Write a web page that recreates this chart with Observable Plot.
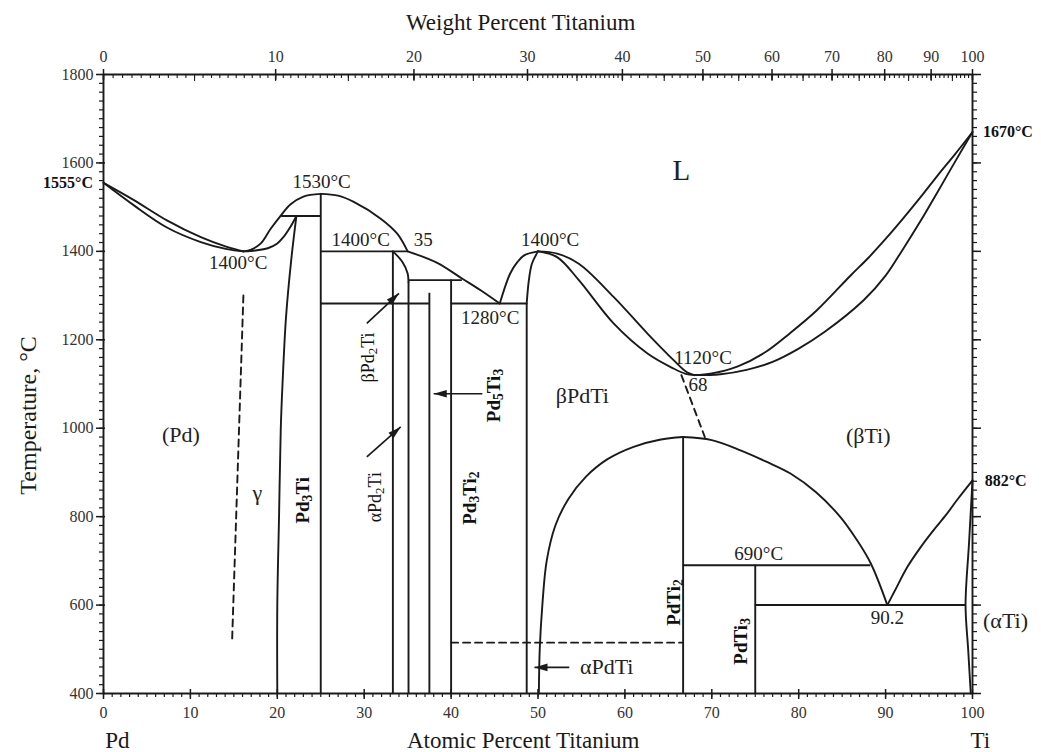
<!DOCTYPE html>
<html><head><meta charset="utf-8">
<script src="https://cdn.jsdelivr.net/npm/d3@7"></script>
<script src="https://cdn.jsdelivr.net/npm/@observablehq/plot@0.6"></script>
<style>body{margin:0;background:#fff}</style>
</head><body><div id="chart"></div>
<script>
// ---------- data ----------
const atMajor = [0,10,20,30,40,50,60,70,80,90,100];
const atMinor = d3.range(0, 101, 1);
const wtMajor = [0,10,20,30,40,50,60,70,80,90,100];
const wtMinor = d3.range(0, 40, 0.5).concat(d3.range(40, 101, 1));
const tMajor = [400,600,800,1000,1200,1400,1600,1800];
const tMinor = d3.range(400, 1801, 20);
const A_TI = 47.867, A_PD = 106.42;

const liqPdLeft = [[0,1555],[3.5,1516],[7.3,1470],[11.2,1432],[14.2,1410],[16.1,1400]];
const solPdLeft = [[0,1555],[3.5,1504],[7.3,1454],[11.2,1421],[14.2,1405],[16.1,1400]];
const liqGammaRise = [[16.1,1400],[17.0,1404],[18.1,1418],[19.2,1450],[20.4,1481],[21.5,1506],[23.0,1524],[25,1530]];
const solGamma = [[16.1,1400],[17.5,1402],[18.9,1407],[20.0,1418],[20.7,1432],[21.5,1455],[22.2,1480]];
const solvusGamma = [[22.2,1480],[21.6,1380],[21.0,1250],[20.6,1100],[20.4,1000],[20.2,800],[20.0,600],[20.0,400]];
const liqPd3TiRight = [[25,1530],[27,1526],[28.8,1512],[31.9,1474],[33.8,1440],[35,1400]];
const liqPd2Ti = [[35,1400],[38.4,1374],[41.3,1338],[43.4,1312],[45.6,1282]];
const betaPd2TiBound = [[33.3,1400],[34.4,1376],[35.0,1350],[35.1,1330]];
const liqPdTiLeft = [[45.6,1282],[46.8,1350],[47.6,1375],[48.4,1391],[50,1400]];
const solPdTiLeft = [[48.7,1282],[48.95,1335],[49.3,1372],[50,1400]];
const liqMidUpper = [[50,1400],[52.2,1395],[54.7,1372],[58.7,1297],[62.6,1214],[65.6,1154],[67.1,1127],[68,1120]];
const solMidLower = [[50,1400],[52.2,1387],[54.7,1335],[58.7,1237],[62.6,1169],[65.6,1135],[67,1123],[68,1120]];
const liqTiUpper = [[68,1120],[70,1124],[73,1140],[76,1170],[79,1215],[82,1265],[86,1346],[88,1385],[90,1428],[92,1474],[94,1522],[96,1572],[98,1620],[100,1670]];
const solTiLower = [[68,1120],[71,1122],[74,1132],[77,1150],[80,1180],[83,1218],[87.5,1290],[90,1345],[92,1405],[94,1468],[96,1535],[98,1603],[100,1670]];
const domeLeft = [[50.1,400],[50.2,500],[50.5,600],[51.0,700],[52.0,780],[53.5,840],[55.5,890],[58,930],[61,958],[64,974],[66.7,980]];
const domeRight = [[66.7,980],[70,973],[73.3,950],[76.2,925],[79.1,897],[82,855],[84.8,799],[86.6,750],[88.3,694],[90.2,600]];
const betaTiSolvus = [[90.2,600],[91,630],[92.5,686],[94,730],[95.5,769],[97,805],[98.2,837],[100,882]];
const alphaTi = [[100,882],[99.6,740],[99.2,600],[99.5,500],[99.8,400]];

const dashGamma = [[16.1,1300],[14.8,520]];
const dashBeta = [[66.5,1120],[69.2,980]];
const dash515 = [[40,515],[66.7,515]];

const verticals = [[25,400,1530],[33.3,400,1400],[35.1,400,1330],[37.5,400,1305],[40,400,1335],[48.7,400,1282],[66.7,400,980],[75,400,690]];
const horizontals = [[1480,20.5,25],[1400,25,35],[1335,35.1,41.3],[1282,25,37.5],[1282,40,48.7],[690,66.7,88.3],[600,75,99.2]];

// labels: text, x (at%), y (°C)
const tempLabels = [
  ["1530°C",25.1,1556],["1400°C",15.5,1374],["1400°C",29.6,1425],["35",36.8,1425],
  ["1280°C",44.5,1250],["1400°C",51.4,1427],["1120°C",69.0,1159],["68",68.4,1099],
  ["690°C",75.4,715],["90.2",90.2,571]
];
const phaseLabels = [["(Pd)",8.9,984],["γ",17.7,853],["βPdTi",55.1,1074],["(βTi)",88.0,982],["(αTi)",103.8,565],["αPdTi",57.9,459]];
const bigLabels = [["L",66.5,1583]];
const rotRegular = [["αPd_2Ti",31.3,844],["βPd_2Ti",30.5,1160]];
const rotBold = [["Pd_3Ti",23.0,837],["Pd_3Ti_2",42.2,842],["Pd_5Ti_3",44.9,1074],["PdTi_2",65.6,606],["PdTi_3",73.3,518]];
const boldTemps = [["1555°C",-1.2,1555,"end"],["1670°C",101.2,1670,"start"],["882°C",101.4,882,"start"]];
const arrows = [[30.3,1237,34.0,1305],[30.3,935,34.2,1003],[43.6,1078,38.0,1078],[53.6,459,49.6,459]];
const titles = [["Weight Percent Titanium",48.0,1918],["Atomic Percent Titanium",48.3,294],["Pd",1.6,294],["Ti",100.9,294]];

// ---------- layout ----------
const W = 1041, H = 752, mL = 103, mR = 69, mT = 74, mB = 59;
const kx = (W - mL - mR) / 100, ky = (H - mT - mB) / 1400;
const px2x = p => p / kx, px2y = p => p / ky;
const wt2at = w => w === 0 ? 0 : 100 * (w / A_TI) / (w / A_TI + (100 - w) / A_PD);

const ink = "#1a1a1a";
const curves = [liqPdLeft, solPdLeft, liqGammaRise, solGamma, solvusGamma, liqPd3TiRight, liqPd2Ti,
  betaPd2TiBound, liqPdTiLeft, solPdTiLeft, liqMidUpper, solMidLower, liqTiUpper, solTiLower,
  domeLeft, domeRight, betaTiSolvus, alphaTi];
const dashes = [dashGamma, dashBeta, dash515];

const headShape = {draw(ctx) { ctx.moveTo(0, 0); ctx.lineTo(-3.8, 13); ctx.lineTo(3.8, 13); ctx.closePath(); }};
const arrowHeads = arrows.map(([x1, y1, x2, y2]) => ({x: x2, y: y2,
  rot: Math.atan2((x2 - x1) * kx, (y2 - y1) * ky) * 180 / Math.PI}));

const marks = [];
for (const c of curves) marks.push(Plot.line(c, {x: d => d[0], y: d => d[1], curve: "catmull-rom", stroke: ink, strokeWidth: 1.9}));
for (const c of dashes) marks.push(Plot.line(c, {x: d => d[0], y: d => d[1], stroke: ink, strokeWidth: 1.9, strokeDasharray: "7,5"}));
marks.push(Plot.ruleX(verticals, {x: d => d[0], y1: d => d[1], y2: d => d[2], stroke: ink, strokeWidth: 1.9}));
marks.push(Plot.ruleY(horizontals, {y: d => d[0], x1: d => d[1], x2: d => d[2], stroke: ink, strokeWidth: 1.9}));

// frame lines
marks.push(Plot.ruleY([400, 1800], {x1: 0, x2: 100, stroke: ink, strokeWidth: 1.9}));
marks.push(Plot.ruleX([0, 100], {y1: 400, y2: 1800, stroke: ink, strokeWidth: 1.9}));
// bottom ticks
marks.push(Plot.ruleX(atMinor, {x: d => d, y1: 400, y2: 400 - px2y(4), stroke: ink, strokeWidth: 1.2}));
marks.push(Plot.ruleX(atMajor, {x: d => d, y1: 400 + px2y(4), y2: 400 - px2y(6), stroke: ink, strokeWidth: 1.5}));
// top ticks (weight %)
marks.push(Plot.ruleX(wtMinor, {x: wt2at, y1: 1800, y2: 1800 - px2y(4), stroke: ink, strokeWidth: 1.1}));
marks.push(Plot.ruleX(wtMinor.filter(w => w % 5 === 0), {x: wt2at, y1: 1800, y2: 1800 - px2y(7), stroke: ink, strokeWidth: 1.1}));
marks.push(Plot.ruleX(wtMajor, {x: wt2at, y1: 1800 + px2y(5), y2: 1800 - px2y(6), stroke: ink, strokeWidth: 1.5}));
// left ticks
marks.push(Plot.ruleY(tMinor, {y: d => d, x1: 0, x2: -px2x(4), stroke: ink, strokeWidth: 1.2}));
marks.push(Plot.ruleY(tMajor, {y: d => d, x1: px2x(2), x2: -px2x(7), stroke: ink, strokeWidth: 1.5}));
// right ticks
marks.push(Plot.ruleY(tMinor, {y: d => d, x1: 100, x2: 100 + px2x(5), stroke: ink, strokeWidth: 1.2}));
marks.push(Plot.ruleY(tMajor, {y: d => d, x1: 100, x2: 100 + px2x(9), stroke: ink, strokeWidth: 1.5}));

// tick labels
marks.push(Plot.text(atMajor, {x: d => d, y: 400 - px2y(19), text: d => String(d), fontSize: 16, fill: "#333"}));
marks.push(Plot.text(wtMajor, {x: wt2at, y: 1800 + px2y(18), text: d => String(d), fontSize: 16, fill: "#333"}));
marks.push(Plot.text(tMajor, {x: -px2x(10), y: d => d, text: d => String(d), textAnchor: "end", fontSize: 16, fill: "#333"}));

// titles
marks.push(Plot.text(titles, {x: d => d[1], y: d => d[2], text: d => d[0], fontSize: 23, fill: ink}));
marks.push(Plot.text(["Temperature, °C"], {x: -8.6, y: 1029, text: d => d, rotate: -90, fontSize: 24, fill: ink}));

// annotations
marks.push(Plot.text(tempLabels, {x: d => d[1], y: d => d[2], text: d => d[0], fontSize: 19, fill: "#222"}));
marks.push(Plot.text(phaseLabels, {x: d => d[1], y: d => d[2], text: d => d[0], fontSize: 22, fill: "#222"}));
marks.push(Plot.text(bigLabels, {x: d => d[1], y: d => d[2], text: d => d[0], fontSize: 29, fill: "#222"}));
marks.push(Plot.text(rotRegular, {x: d => d[1], y: d => d[2], text: d => d[0], rotate: -90, fontSize: 18, fill: "#111"}));
marks.push(Plot.text(rotBold, {x: d => d[1], y: d => d[2], text: d => d[0], rotate: -90, fontSize: 19, fontWeight: "bold", fill: "#111"}));
marks.push(Plot.text(boldTemps.filter(d => d[3] === "end"), {x: d => d[1], y: d => d[2], text: d => d[0], textAnchor: "end", fontSize: 16, fontWeight: "bold", fill: "#111"}));
marks.push(Plot.text(boldTemps.filter(d => d[3] === "start"), {x: d => d[1], y: d => d[2], text: d => d[0], textAnchor: "start", fontSize: 16, fontWeight: "bold", fill: "#111"}));

// arrows
marks.push(Plot.link(arrows, {x1: d => d[0], y1: d => d[1], x2: d => d[2], y2: d => d[3], stroke: ink, strokeWidth: 1.7}));
marks.push(Plot.dot(arrowHeads, {x: "x", y: "y", rotate: "rot", symbol: headShape, r: 5, fill: ink, stroke: "none"}));

const svg = Plot.plot({
  width: W, height: H, marginLeft: mL, marginRight: mR, marginTop: mT, marginBottom: mB,
  x: {domain: [0, 100], axis: null},
  y: {domain: [400, 1800], axis: null},
  style: {fontFamily: "'Liberation Serif', 'Times New Roman', serif", fontSize: "15px", color: ink, background: "#fff", overflow: "visible"},
  marks
});

// subscripts: "_n" -> subscript n
const NS = "http://www.w3.org/2000/svg";
svg.querySelectorAll("text").forEach(t => {
  const spans = t.querySelectorAll("tspan");
  const nodes = spans.length ? [...spans] : [t];
  nodes.forEach(n => {
    const s = n.textContent;
    if (!s.includes("_")) return;
    n.textContent = "";
    s.split(/(_\d)/).forEach(part => {
      if (!part) return;
      const ts = document.createElementNS(NS, "tspan");
      if (part[0] === "_") {
        ts.textContent = part.slice(1);
        ts.setAttribute("baseline-shift", "-22%");
        ts.setAttribute("font-size", "72%");
      } else ts.textContent = part;
      n.appendChild(ts);
    });
  });
});
document.getElementById("chart").appendChild(svg);
</script>
</body></html>
